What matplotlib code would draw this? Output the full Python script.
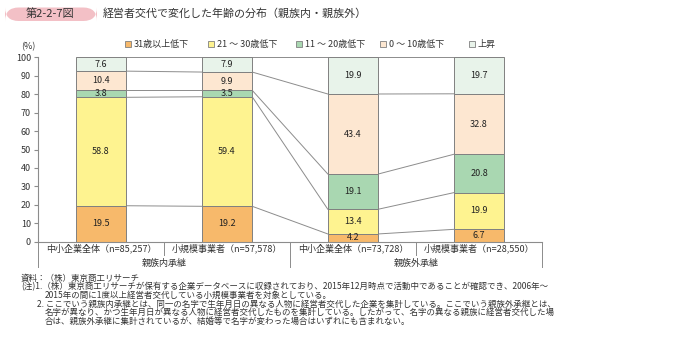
import matplotlib.pyplot as plt
from matplotlib.patches import FancyBboxPatch, Rectangle
import numpy as np

plt.rcParams['font.family'] = ['Noto Sans CJK JP', 'DejaVu Sans']

# data
categories = ['中小企業全体（n=85,257）', '小規模事業者（n=57,578）',
              '中小企業全体（n=73,728）', '小規模事業者（n=28,550）']
groups = ['親族内承継', '親族外承継']
series_names = ['31歳以上低下', '21 ～ 30歳低下', '11 ～ 20歳低下', '0 ～ 10歳低下', '上昇']
over31 = [19.5, 19.2, 4.2, 6.7]
age21_30 = [58.8, 59.4, 13.4, 19.9]
age11_20 = [3.8, 3.5, 19.1, 20.8]
age0_10 = [10.4, 9.9, 43.4, 32.8]
rise = [7.6, 7.9, 19.9, 19.7]
colors = ['#F7B96B', '#FEF390', '#A9D7B1', '#FDE7D1', '#E8F3EA']

values = np.array([over31, age21_30, age11_20, age0_10, rise])
W, H = 700, 342
fig = plt.figure(figsize=(W / 100, H / 100), dpi=100)

# axes placed in pixel coordinates
x0, x1, ytop, ybot = 38, 542, 57.3, 241.7
ax = fig.add_axes([x0 / W, 1 - ybot / H, (x1 - x0) / W, (ybot - ytop) / H])

x = np.arange(len(categories))
bw = 0.4
bottom = np.zeros(len(categories))
for vals, col in zip(values, colors):
    ax.bar(x, vals, bw, bottom=bottom, color=col, edgecolor='#808080', linewidth=0.7, zorder=2)
    for xi, b, v in zip(x, bottom, vals):
        ax.text(xi, b + v / 2, f'{v:.1f}', ha='center', va='center', fontsize=6.5, color='#222222', zorder=3)
    bottom = bottom + vals

# connector lines between cumulative boundaries
cum = np.vstack([np.zeros(len(categories)), np.cumsum(values, axis=0)])
cum[-1] = 100
for i in range(len(categories) - 1):
    for lvl in range(1, cum.shape[0]):
        ax.plot([x[i] + bw / 2, x[i + 1] - bw / 2], [cum[lvl, i], cum[lvl, i + 1]],
                color='#8C8C8C', linewidth=0.7, zorder=1)

ax.set_xlim(-0.5, 3.5)
ax.set_ylim(0, 100)
ax.set_yticks(range(0, 101, 10))
ax.set_xticks([])
for s in ['top', 'right']:
    ax.spines[s].set_visible(False)
for s in ['left', 'bottom']:
    ax.spines[s].set_color('#8C8C8C')
    ax.spines[s].set_linewidth(0.8)
ax.tick_params(axis='y', length=3, width=0.8, color='#8C8C8C', labelsize=6.5, labelcolor='#333333', pad=2)

# category and group labels below the axis
for xi, c in zip(x, categories):
    ax.text(xi, -3.6, c, ha='center', va='center', fontsize=6.5, color='#333333')
for gi, g in enumerate(groups):
    ax.text(0.5 + 2 * gi, -11.6, g, ha='center', va='center', fontsize=6.5, color='#333333')
for xs in [0.5, 2.5]:
    ax.plot([xs, xs], [0, -7.2], color='#8C8C8C', linewidth=0.7, clip_on=False)
for xs in [-0.5, 1.5, 3.5]:
    ax.plot([xs, xs], [0, -13.8], color='#8C8C8C', linewidth=0.7, clip_on=False)

fig.text(28 / W, 1 - 46.5 / H, '(%)', fontsize=6.5, color='#333333', ha='center', va='center')

# legend
leg_x = [125, 208, 296, 380, 469]
for lx, name, col in zip(leg_x, series_names, colors):
    fig.add_artist(Rectangle((lx / W, 1 - 47 / H), 6 / W, 6 / H, transform=fig.transFigure,
                             facecolor=col, edgecolor='#808080', linewidth=0.6))
    fig.text((lx + 9) / W, 1 - 44 / H, name, fontsize=6.5, color='#333333', va='center')

# title
fig.add_artist(FancyBboxPatch((5 / W, 1 - 21 / H), 92 / W, 13.5 / H, transform=fig.transFigure,
                              boxstyle='round,pad=0,rounding_size=0.0195', facecolor='#F3C0C6',
                              edgecolor='none', mutation_aspect=W / H))
fig.text(50 / W, 1 - 14 / H, '第2-2-7図', fontsize=8, color='#333333', ha='center', va='center')
fig.text(103 / W, 1 - 13.5 / H, '経営者交代で変化した年齢の分布（親族内・親族外）', fontsize=7.9,
         color='#333333', va='center')

# notes
notes = [
    (21, 278, '資料：（株）東京商工リサーチ'),
    (21, 287, '(注)1.（株）東京商工リサーチが保有する企業データベースに収録されており、2015年12月時点で活動中であることが確認でき、2006年～'),
    (45, 295.5, '2015年の間に1度以上経営者交代している小規模事業者を対象としている。'),
    (37, 304, '2. ここでいう親族内承継とは、同一の名字で生年月日の異なる人物に経営者交代した企業を集計している。ここでいう親族外承継とは、'),
    (45, 312.5, '名字が異なり、かつ生年月日が異なる人物に経営者交代したものを集計している。したがって、名字の異なる親族に経営者交代した場'),
    (45, 321, '合は、親族外承継に集計されているが、結婚等で名字が変わった場合はいずれにも含まれない。'),
]
for nx, ny, t in notes:
    fig.text(nx / W, 1 - ny / H, t, fontsize=6.1, color='#333333', va='center')

fig.savefig('out.png', dpi=100)
